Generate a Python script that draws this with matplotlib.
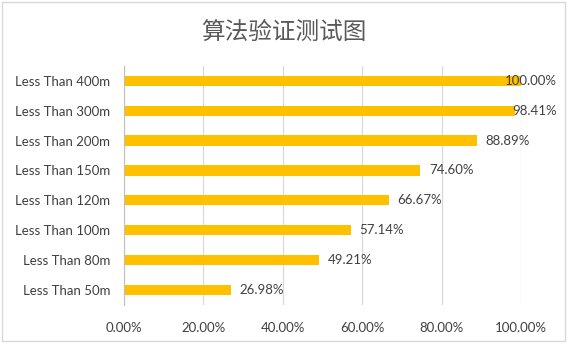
import matplotlib
matplotlib.use("Agg")
import matplotlib.pyplot as plt
from matplotlib.patches import Rectangle
from matplotlib.ticker import FuncFormatter

plt.rcParams['font.family'] = ['Lato', 'Noto Sans CJK SC', 'DejaVu Sans']

# --- dane ---
title = "算法验证测试图"
categories = ["Less Than 50m", "Less Than 80m", "Less Than 100m", "Less Than 120m",
              "Less Than 150m", "Less Than 200m", "Less Than 300m", "Less Than 400m"]
values = [0.2698, 0.4921, 0.5714, 0.6667, 0.7460, 0.8889, 0.9841, 1.0000]
xticks = [0.0, 0.2, 0.4, 0.6, 0.8, 1.0]

bar_color = "#FFC000"
text_color = "#404040"
grid_color = "#D9D9D9"

fig = plt.figure(figsize=(5.67, 3.43), dpi=100)
ax = fig.add_axes([0.2187, 0.111, 0.7002, 0.697])

# ramka wykresu
fig.patches.append(Rectangle((0.004, 0.006), 0.992, 0.988, transform=fig.transFigure,
                             fill=False, edgecolor="#D9D9D9", linewidth=1.0))

ypos = list(range(len(categories)))
ax.barh(ypos, values, height=0.34, color=bar_color, zorder=3)

ax.set_xlim(0, 1.0)
ax.set_ylim(-0.5, len(categories) - 0.5)
ax.set_xticks(xticks)
ax.xaxis.set_major_formatter(FuncFormatter(lambda v, p: f"{v*100:.2f}%"))
ax.set_yticks(ypos)
ax.set_yticklabels(categories)
ax.tick_params(axis="both", length=0, labelsize=9.5, colors=text_color)
ax.tick_params(axis="x", pad=12)
ax.tick_params(axis="y", pad=10)

ax.grid(axis="x", color=grid_color, linewidth=0.9, zorder=0)
for s in ["top", "right", "bottom"]:
    ax.spines[s].set_visible(False)
ax.spines["left"].set_color("#BFBFBF")
ax.spines["left"].set_zorder(4)

# etykiety wartosci (przesuniete w lewo gdy wychodza poza ramke)
label_w = 0.128
right_limit = 1.09
for y, v in zip(ypos, values):
    lx = v + 0.022
    if lx + label_w > right_limit:
        ax.text(right_limit, y, f"{v*100:.2f}%", ha="right", va="center",
                fontsize=9.5, color=text_color, zorder=5, clip_on=False)
    else:
        ax.text(lx, y, f"{v*100:.2f}%", ha="left", va="center",
                fontsize=9.5, color=text_color, zorder=5, clip_on=False)

fig.text(0.5, 0.905, title, ha="center", va="center", fontsize=17,
         color="#595959", family=["Noto Sans CJK SC", "DejaVu Sans"])

fig.savefig("out.png", dpi=100)
